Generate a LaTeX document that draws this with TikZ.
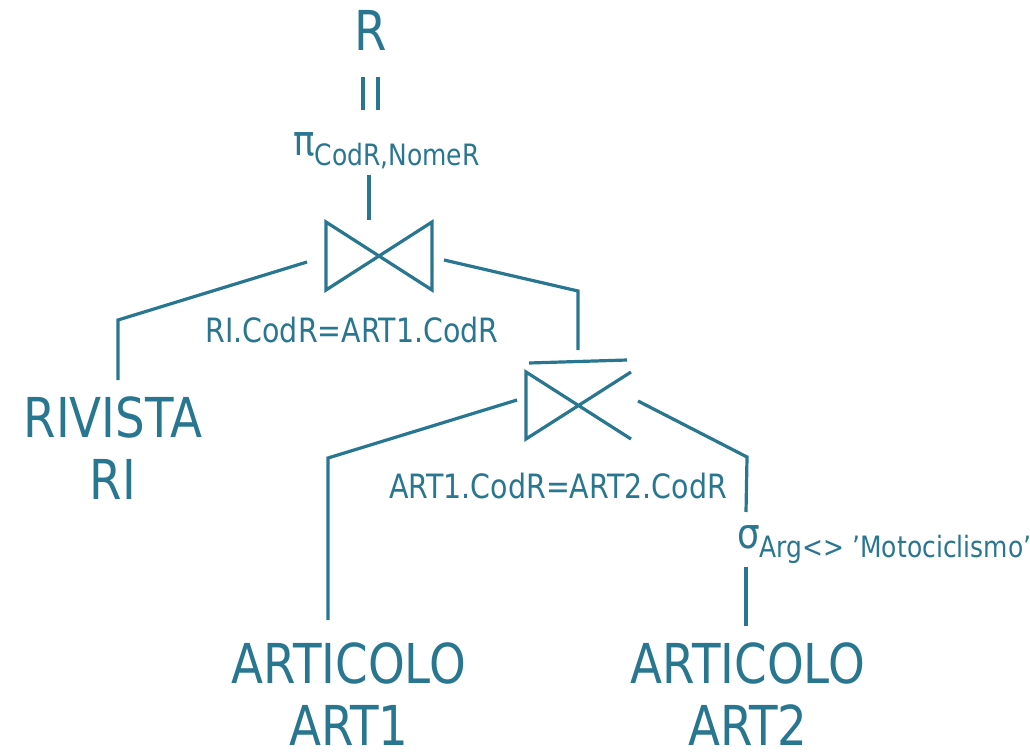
\documentclass[tikz,border=0pt]{standalone}
\usepackage{fontspec}
\setmainfont[FakeStretch=0.85]{DejaVu Sans}
\definecolor{tealc}{RGB}{41,118,145}
\begin{document}
\begin{tikzpicture}[x=1pt,y=-1pt,
  every node/.style={inner sep=0pt, text=tealc},
  conn/.style={draw=tealc, line width=3.2pt},
  big/.style={font=\fontsize{55}{62}\selectfont, align=center, text depth=0pt, anchor=south},
  cond/.style={font=\fontsize{33.5}{40}\selectfont, anchor=base},
  opsym/.style={font=\fontsize{42}{42}\selectfont, anchor=base west}]
\useasboundingbox (0,0) rectangle (1030,752);

% relations and result
\node[big] (r) at (371,51) {R};
\node[big] (rivista) at (113,500) {RIVISTA\\RI};
\node[big] (art1) at (349,746) {ARTICOLO\\ART1};
\node[big] (art2) at (748,746) {ARTICOLO\\ART2};

% operators
\node[opsym] (pi) at (293,155) {π\raisebox{-10pt}{\fontsize{29.4}{30}\selectfont CodR,NomeR}};
\node[opsym] (sigma) at (737,548) {σ\raisebox{-9pt}{\fontsize{29.4}{30}\selectfont Arg<> ’Motociclismo’}};
\node[cond] (c1) at (352,342) {RI.CodR=ART1.CodR};
\node[cond] (c2) at (558,498) {ART1.CodR=ART2.CodR};

% join 1 corners
\coordinate (j1a) at (326,222);
\coordinate (j1b) at (432,290);
\coordinate (j1c) at (432,222);
\coordinate (j1d) at (326,290);
\draw[conn] (j1a) -- (j1b) -- (j1c) -- (j1d) -- cycle;

% join 2 corners
\coordinate (j2a) at (631,372);
\coordinate (j2b) at (526,439);
\coordinate (j2c) at (526,372);
\coordinate (j2d) at (631,439);
\draw[conn] (j2a) -- (j2b) -- (j2c) -- (j2d);
\coordinate (bar2l) at (529,363);
\coordinate (bar2r) at (627,360);
\draw[conn] (bar2l) -- (bar2r);

% equality between R and pi
\coordinate (eq1t) at (363,77); \coordinate (eq1b) at (363,110);
\coordinate (eq2t) at (378,77); \coordinate (eq2b) at (378,110);
\draw[conn] (eq1t) -- (eq1b);
\draw[conn] (eq2t) -- (eq2b);

% pi to join 1
\coordinate (pib) at (369,175); \coordinate (j1top) at (369,220);
\draw[conn] (pib) -- (j1top);

% join 1 to RIVISTA
\coordinate (j1l) at (307,262); \coordinate (rivk) at (118,320); \coordinate (rivt) at (118,380);
\draw[conn] (j1l) -- (rivk) -- (rivt);

% join 1 to join 2
\coordinate (j1r) at (444,260); \coordinate (j2k) at (578,291); \coordinate (j2t) at (578,350);
\draw[conn] (j1r) -- (j2k) -- (j2t);

% join 2 to ART1
\coordinate (j2l) at (517,400); \coordinate (a1k) at (328,458); \coordinate (a1t) at (328,620);
\draw[conn] (j2l) -- (a1k) -- (a1t);

% join 2 to sigma
\coordinate (j2r) at (638,401); \coordinate (sgk) at (747,457); \coordinate (sgt) at (746,512);
\draw[conn] (j2r) -- (sgk) -- (sgt);

% sigma to ART2
\coordinate (sgb) at (746,567); \coordinate (a2t) at (746,626);
\draw[conn] (sgb) -- (a2t);
\end{tikzpicture}
\end{document}
